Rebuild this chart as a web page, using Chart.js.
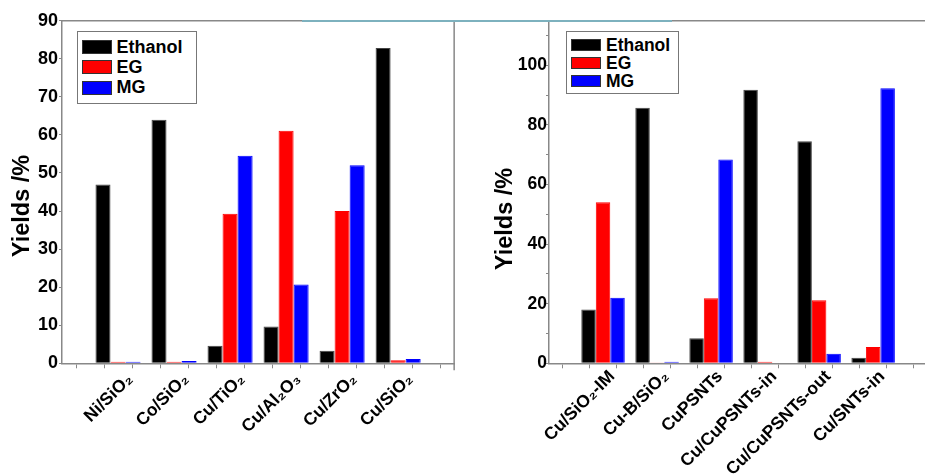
<!DOCTYPE html>
<html>
<head>
<meta charset="utf-8">
<script src="https://cdn.jsdelivr.net/npm/chart.js@4.4.1/dist/chart.umd.min.js"></script>
<style>
    html, body { margin: 0; padding: 0; background: #fff; overflow: hidden; width: 925px; height: 475px; }
    body { position: relative; font-family: "Liberation Sans", "DejaVu Sans", sans-serif; font-weight: bold; }
    canvas { position: absolute; top: 0; }
    #leftChart  { left: 0; }
    #rightChart { left: 470px; }
    .legend { position: absolute; border: 1.5px solid #777; background: #fff; box-sizing: border-box; }
    .legend .row { display: flex; align-items: center; }
    .legend .swatch { box-sizing: border-box; border: 1px solid #333; flex: none; }
    .teal { position: absolute; left: 302px; top: 20px; width: 370px; height: 1.5px; background: #7db1be; }
</style>
</head>
<body>
<canvas id="leftChart" width="470" height="475"></canvas>
<canvas id="rightChart" width="470" height="475"></canvas>
<div class="teal"></div>
<div class="legend" id="leftLegend" style="left:77px;top:31px;width:120px;height:73px;padding:5px 0 0 3.5px;font-size:18px"></div>
<div class="legend" id="rightLegend" style="left:566px;top:31px;width:113px;height:63px;padding:4px 0 0 4px;font-size:17.5px"></div>

<script>
// ── Data ──────────────────────────────────────────────────────────────

const seriesNames  = ['Ethanol', 'EG', 'MG'];
const seriesColors = ['#000000', '#ff0000', '#0000ff'];

const leftCategories = ['Ni/SiO₂', 'Co/SiO₂', 'Cu/TiO₂', 'Cu/Al₂O₃', 'Cu/ZrO₂', 'Cu/SiO₂'];
const leftEthanol    = [47.0, 64.0, 4.6, 9.7, 3.3, 82.8];
const leftEG         = [0.4, 0.4, 39.3, 61.1, 40.0, 0.8];
const leftMG         = [0.4, 0.6, 54.5, 20.7, 52.0, 1.1];
const leftYTicks     = [0, 10, 20, 30, 40, 50, 60, 70, 80, 90];

const rightCategories = ['Cu/SiO₂-IM', 'Cu-B/SiO₂', 'CuPSNTs', 'Cu/CuPSNTs-in', 'Cu/CuPSNTs-out', 'Cu/SNTs-in'];
const rightEthanol    = [18.1, 85.8, 8.4, 91.8, 74.5, 1.9];
const rightEG         = [54.1, 0.3, 21.8, 0.5, 21.2, 5.5];
const rightMG         = [22.0, 0.5, 68.4, 0.2, 3.2, 92.3];
const rightYTicks     = [0, 20, 40, 60, 80, 100];

const FONT = '"Liberation Sans", "DejaVu Sans", sans-serif';
const AXIS = '#888';

// ── Plugins ───────────────────────────────────────────────────────────

// top (and optional right) border of the plot box
const framePlugin = {
    id: 'frame',
    afterDraw(chart, args, opts) {
        const { ctx, chartArea: a } = chart;
        ctx.save();
        ctx.strokeStyle = AXIS;
        ctx.lineWidth = 1.5;
        ctx.beginPath();
        ctx.moveTo(a.left, a.top);
        ctx.lineTo(chart.width, a.top);
        if (opts.right) {
            ctx.moveTo(a.right, a.top);
            ctx.lineTo(a.right, a.bottom + 7);
        }
        ctx.stroke();
        ctx.restore();
    }
};

// rotated y title, placed freely
const yTitlePlugin = {
    id: 'yTitle',
    afterDraw(chart, args, opts) {
        const ctx = chart.ctx;
        ctx.save();
        ctx.translate(opts.x, opts.y);
        ctx.rotate(-Math.PI / 2);
        ctx.font = `bold ${opts.size}px ${FONT}`;
        ctx.fillStyle = '#000';
        ctx.textAlign = 'center';
        ctx.textBaseline = 'middle';
        ctx.fillText(opts.text, 0, 0);
        ctx.restore();
    }
};

// ── Chart builder ─────────────────────────────────────────────────────

function buildChart(id, cats, series, yTicks, cfg) {
    const datasets = series.map((vals, i) => ({
        label: seriesNames[i],
        data: vals.map((v, k) => ({ x: k + 1, y: v })),
        backgroundColor: seriesColors[i],
        borderColor: i === 0 ? '#444' : seriesColors[i],
        borderWidth: 1,
        categoryPercentage: 1.61,   // ruler is the half-step tick spacing
        barPercentage: 1,
    }));

    return new Chart(document.getElementById(id), {
        type: 'bar',
        data: { datasets },
        plugins: [framePlugin, yTitlePlugin],
        options: {
            responsive: false,
            animation: false,
            layout: { padding: { top: 20.7, right: cfg.padRight, left: 0, bottom: 0 } },
            plugins: {
                legend: { display: false },
                tooltip: { enabled: false },
                frame: { right: cfg.frameRight },
                yTitle: { text: 'Yields /%', x: cfg.titleX, y: cfg.titleY, size: 23.5 },
            },
            scales: {
                x: {
                    type: 'linear',
                    min: 0,
                    max: cats.length + 1,
                    offset: false,
                    afterFit: s => { s.height = 475 - 363.3; },
                    grid: { drawOnChartArea: false, tickLength: 5, color: AXIS },
                    border: { color: AXIS, width: 1.5 },
                    ticks: {
                        stepSize: 0.5,
                        autoSkip: false,
                        minRotation: 45,
                        maxRotation: 45,
                        padding: cfg.xPad,
                        labelOffset: cfg.labelOffset,
                        color: '#000',
                        font: { family: FONT, size: 17.5, weight: 'bold' },
                        callback: v => (Number.isInteger(v) && v >= 1 && v <= cats.length) ? cats[v - 1] : '',
                    },
                },
                y: {
                    min: 0,
                    max: cfg.yMax,
                    afterFit: s => { s.width = cfg.yWidth; },
                    grid: { drawOnChartArea: false, tickLength: 3, color: AXIS },
                    border: { color: AXIS, width: 1.5 },
                    ticks: {
                        stepSize: cfg.yStep,
                        includeBounds: false,
                        padding: cfg.yPad,
                        color: '#000',
                        font: { family: FONT, size: cfg.yFont, weight: 'bold' },
                        callback: v => yTicks.includes(v) ? String(v) : '',
                    },
                },
            },
        },
    });
}

function buildLegend(id, swatchW, swatchH, rowH) {
    document.getElementById(id).innerHTML = seriesNames.map((name, i) => `
        <div class="row" style="height:${rowH}px">
            <span class="swatch" style="width:${swatchW}px;height:${swatchH}px;background:${seriesColors[i]}"></span>
            <span style="margin-left:5px">${name}</span>
        </div>`).join('');
}

buildChart('leftChart', leftCategories, [leftEthanol, leftEG, leftMG], leftYTicks, {
    padRight: 4, yWidth: 62, yMax: 90, yStep: 5, yFont: 18, yPad: 1,
    xPad: 1, labelOffset: 12, frameRight: true, titleX: 22.5, titleY: 206,
});

buildChart('rightChart', rightCategories, [rightEthanol, rightEG, rightMG], rightYTicks, {
    padRight: 6, yWidth: 79, yMax: 115, yStep: 10, yFont: 17.5, yPad: -1,
    xPad: -2, labelOffset: 9, frameRight: false, titleX: 36, titleY: 219,
});

buildLegend('leftLegend', 30, 14, 20.3);
buildLegend('rightLegend', 30, 12.5, 18);
</script>
</body>
</html>
